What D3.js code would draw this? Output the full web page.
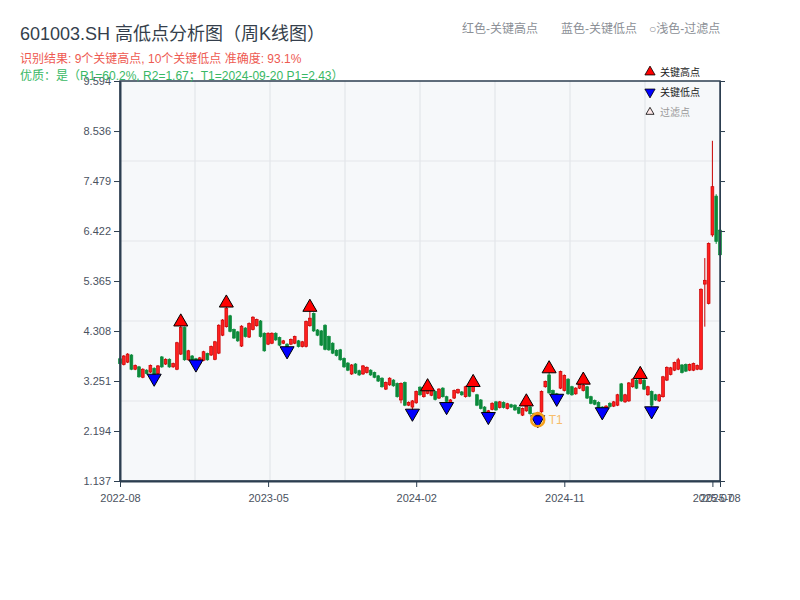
<!DOCTYPE html>
<html>
  <head>
    <meta charset="utf-8">
    <style>
      body {
        margin: 0;
        background: #fff;
      }
      svg text {
        font-family: "Liberation Sans", "Noto Sans CJK SC", sans-serif;
      }
      .axis path, .axis line {
        stroke: #2c3e50;
      }
      .axis text {
        fill: #4a5260;
        font-size: 11px;
      }
    </style>
  </head>
  <body>
    <script src="https://d3js.org/d3.v7.min.js"></script>
    <script>
      // weekly OHLC
      const opens = [3.72,3.60,3.65,3.80,3.50,3.55,3.33,3.48,3.44,3.52,3.41,3.76,3.61,3.71,3.55,3.50,3.82,4.38,3.70,3.78,
        3.72,3.63,3.69,3.83,3.80,3.71,3.84,4.22,4.40,4.63,4.34,4.29,3.99,4.37,4.18,4.34,4.42,4.52,4.26,4.03,
        4.05,4.26,4.17,4.05,4.03,4.03,4.05,4.10,3.98,3.98,4.42,4.68,4.33,4.31,4.43,4.19,4.05,3.90,3.91,3.73,
        3.63,3.40,3.61,3.47,3.40,3.43,3.48,3.43,3.36,3.31,3.08,3.17,3.27,3.20,2.85,3.22,2.74,2.70,2.79,3.12,
        2.92,2.99,2.95,3.03,2.89,3.10,2.92,2.74,2.89,3.00,3.02,2.92,3.18,3.03,2.96,2.85,2.70,2.58,2.65,2.81,
        2.69,2.80,2.67,2.75,2.74,2.69,2.53,2.62,2.70,2.56,2.50,2.60,3.13,3.38,3.05,2.98,3.10,3.05,3.29,3.13,
        2.98,3.10,3.05,3.13,2.92,2.84,2.80,2.70,2.66,2.78,2.72,2.74,3.19,2.81,2.83,3.13,3.27,3.20,3.27,2.96,
        3.03,2.96,2.83,2.92,3.27,3.39,3.48,3.50,3.59,3.60,3.48,3.48,3.50,3.50,5.30,4.89,6.34,7.16,6.44];
      const closes = [3.62,3.78,3.82,3.50,3.58,3.34,3.50,3.41,3.58,3.38,3.57,3.55,3.71,3.55,3.62,4.06,4.38,3.70,3.89,3.64,
        3.66,3.74,3.87,3.70,3.98,4.08,4.43,4.54,4.79,4.30,4.16,4.10,4.41,4.19,4.47,4.60,4.55,4.19,3.89,4.26,
        4.26,4.12,4.01,4.10,3.95,4.13,4.19,3.98,4.08,4.51,4.58,4.31,4.22,4.01,3.92,3.91,3.84,3.79,3.70,3.55,
        3.48,3.59,3.42,3.38,3.57,3.54,3.38,3.33,3.25,3.13,3.22,3.31,3.15,2.92,3.20,2.74,2.80,2.83,3.03,2.96,
        3.08,3.10,3.06,2.86,3.08,2.92,2.82,2.85,3.05,3.07,2.96,3.13,2.93,3.17,2.74,2.67,2.60,2.62,2.78,2.64,
        2.81,2.69,2.77,2.70,2.64,2.57,2.67,2.74,2.56,2.52,2.58,3.03,3.24,3.00,2.98,2.95,3.45,3.37,2.98,2.96,
        3.10,3.22,3.16,2.89,2.78,2.76,2.67,2.66,2.72,2.71,2.81,2.96,2.83,2.96,3.21,3.29,3.10,3.31,3.08,3.13,
        2.74,2.85,2.96,3.34,3.54,3.53,3.64,3.70,3.43,3.46,3.60,3.62,3.58,5.19,5.38,6.16,7.36,6.20,5.92];
      const highs = [3.75,3.80,3.84,3.82,3.60,3.57,3.52,3.50,3.60,3.54,3.59,3.78,3.73,3.73,3.64,4.08,4.50,4.40,3.91,3.80,
        3.74,3.76,3.89,3.85,4.00,4.10,4.45,4.56,4.90,4.65,4.36,4.31,4.43,4.39,4.49,4.62,4.57,4.54,4.28,4.28,
        4.28,4.28,4.19,4.12,4.05,4.15,4.21,4.12,4.10,4.53,4.81,4.70,4.35,4.33,4.45,4.21,4.07,3.92,3.93,3.75,
        3.65,3.61,3.63,3.49,3.59,3.56,3.50,3.45,3.38,3.33,3.24,3.33,3.29,3.22,3.22,3.24,2.82,2.85,3.05,3.14,
        3.10,3.13,3.08,3.05,3.10,3.12,2.94,2.87,3.07,3.09,3.04,3.15,3.20,3.22,2.98,2.87,2.72,2.64,2.80,2.83,
        2.83,2.82,2.79,2.77,2.76,2.71,2.69,2.81,2.72,2.58,2.60,3.05,3.26,3.51,3.07,3.00,3.47,3.39,3.31,3.15,
        3.12,3.24,3.27,3.15,2.94,2.86,2.82,2.72,2.74,2.80,2.83,2.98,3.21,2.98,3.23,3.31,3.29,3.39,3.29,3.15,
        3.05,2.98,2.98,3.36,3.56,3.55,3.66,3.74,3.61,3.62,3.62,3.64,3.60,5.21,5.85,6.18,8.33,7.20,6.46];
      const lows = [3.60,3.58,3.63,3.48,3.48,3.32,3.31,3.39,3.42,3.31,3.39,3.53,3.59,3.53,3.53,3.48,3.80,3.68,3.68,3.62,
        3.61,3.61,3.67,3.68,3.78,3.69,3.82,4.20,4.38,4.28,4.14,4.08,3.97,4.17,4.16,4.32,4.40,4.17,3.87,4.01,
        4.03,4.10,3.99,4.03,3.89,4.01,4.03,3.96,3.96,3.96,4.40,4.29,4.20,3.99,3.90,3.89,3.82,3.77,3.68,3.53,
        3.46,3.38,3.40,3.36,3.38,3.41,3.36,3.31,3.23,3.11,3.06,3.15,3.13,2.90,2.78,2.72,2.72,2.57,2.77,2.94,
        2.90,2.97,2.93,2.84,2.87,2.90,2.71,2.72,2.87,2.98,2.94,2.90,2.91,3.01,2.72,2.65,2.58,2.50,2.63,2.62,
        2.67,2.67,2.65,2.68,2.62,2.55,2.51,2.60,2.54,2.50,2.43,2.58,3.11,2.98,2.96,2.885,3.08,3.03,2.96,2.94,
        2.96,3.08,3.03,2.87,2.76,2.74,2.65,2.60,2.64,2.69,2.70,2.72,2.81,2.79,2.81,3.11,3.08,3.18,3.06,2.94,
        2.62,2.83,2.81,2.90,3.25,3.37,3.46,3.48,3.41,3.44,3.46,3.46,3.48,3.48,4.40,4.87,6.30,6.15,5.90];

      // key points (week index)
      const highIdx = [16, 28, 50, 81, 93, 107, 113, 122, 137];
      const lowIdx = [9, 20, 44, 77, 86, 97, 110, 115, 127, 140];
      const t1Idx = 110, t1Price = 2.43;

      const yTicks = [1.137, 2.194, 3.251, 4.308, 5.365, 6.422, 7.479, 8.536, 9.594];
      const xTickIdx = [0, 39, 78, 117, 156, 158];
      const xTickLabels = ["2022-08", "2023-05", "2024-02", "2024-11", "2025-07", "2025-08"];

      const width = 800, height = 600;
      const plot = {left: 120, right: 720, top: 81, bottom: 481};
      const red = "#ff1f1f", redDark = "#c80000", green = "#0b8a3b";

      const svg = d3.select("body").append("svg")
          .attr("width", width)
          .attr("height", height);

      const x = d3.scaleLinear()
          .domain([0, opens.length - 1])
          .range([plot.left, plot.right]);
      const y = d3.scaleLinear()
          .domain([yTicks[0], yTicks[yTicks.length - 1]])
          .range([plot.bottom, plot.top]);

      // plot background + grid (8 x 5 cells)
      svg.append("rect")
          .attr("x", plot.left).attr("y", plot.top)
          .attr("width", plot.right - plot.left).attr("height", plot.bottom - plot.top)
          .attr("fill", "#f6f8fa");

      const gx = d3.scaleLinear().domain([0, 8]).range([plot.left, plot.right]);
      const gy = d3.scaleLinear().domain([0, 5]).range([plot.top, plot.bottom]);
      svg.append("g").selectAll("line")
          .data(d3.range(1, 8))
          .join("line")
          .attr("x1", d => gx(d)).attr("x2", d => gx(d))
          .attr("y1", plot.top).attr("y2", plot.bottom)
          .attr("stroke", "#e3e6ea").attr("stroke-width", 1.2);
      svg.append("g").selectAll("line")
          .data(d3.range(1, 5))
          .join("line")
          .attr("y1", d => gy(d)).attr("y2", d => gy(d))
          .attr("x1", plot.left).attr("x2", plot.right)
          .attr("stroke", "#e3e6ea").attr("stroke-width", 1.2);

      // candles
      const candles = svg.append("g").selectAll("g")
          .data(opens.map((o, i) => ({i, o, c: closes[i], h: highs[i], l: lows[i]})))
          .join("g");

      candles.append("line")
          .attr("x1", d => x(d.i)).attr("x2", d => x(d.i))
          .attr("y1", d => y(d.h)).attr("y2", d => y(d.l))
          .attr("stroke", d => d.c >= d.o ? redDark : green)
          .attr("stroke-width", 1);

      candles.append("rect")
          .attr("x", d => x(d.i) - 1.4)
          .attr("width", 2.8)
          .attr("y", d => y(Math.max(d.o, d.c)))
          .attr("height", d => Math.max(1, Math.abs(y(d.o) - y(d.c))))
          .attr("fill", d => d.c >= d.o ? red : green)
          .attr("stroke", d => d.c >= d.o ? redDark : green)
          .attr("stroke-width", 0.7);

      // markers
      const tri = d3.symbol().type(d3.symbolTriangle).size(85);
      svg.append("g").selectAll("path")
          .data(highIdx)
          .join("path")
          .attr("d", tri)
          .attr("transform", i => `translate(${x(i)},${y(highs[i])})`)
          .attr("fill", "#ff0000")
          .attr("stroke", "#000").attr("stroke-width", 1);

      svg.append("g").selectAll("path")
          .data(lowIdx)
          .join("path")
          .attr("d", tri)
          .attr("transform", i => `translate(${x(i)},${y(lows[i])}) rotate(180)`)
          .attr("fill", "#0000ff")
          .attr("stroke", "#000").attr("stroke-width", 1);

      // T1 ring
      svg.append("circle")
          .attr("cx", x(t1Idx)).attr("cy", y(t1Price))
          .attr("r", 6.5)
          .attr("fill", "none")
          .attr("stroke", "#f5a01a").attr("stroke-width", 2.5);
      svg.append("text")
          .attr("x", x(t1Idx) + 11).attr("y", y(t1Price) + 4)
          .attr("fill", "#f7bd6a")
          .style("font-size", "12px")
          .text("T1");

      // frame + axes
      svg.append("rect")
          .attr("x", plot.left).attr("y", plot.top)
          .attr("width", plot.right - plot.left).attr("height", plot.bottom - plot.top)
          .attr("fill", "none").attr("stroke", "#2c3e50").attr("stroke-width", 1.5);

      svg.append("g")
          .attr("class", "axis")
          .attr("transform", `translate(${plot.left},0)`)
          .call(d3.axisLeft(y).tickValues(yTicks).tickFormat(d3.format(".3f")).tickSize(6).tickSizeOuter(0))
          .call(g => g.select(".domain").attr("stroke-width", 2));

      svg.append("g")
          .attr("class", "axis")
          .attr("transform", `translate(${plot.right},0)`)
          .call(d3.axisRight(y).tickValues(yTicks).tickFormat("").tickSize(5).tickSizeOuter(0));

      svg.append("g")
          .attr("class", "axis")
          .attr("transform", `translate(0,${plot.bottom})`)
          .call(d3.axisBottom(x).tickValues(xTickIdx)
            .tickFormat((d, k) => xTickLabels[k]).tickSize(6).tickSizeOuter(0))
          .call(g => g.select(".domain").attr("stroke-width", 2))
          .call(g => g.selectAll("text").attr("dy", "1.1em"));

      // titles
      svg.append("text")
          .attr("x", 20).attr("y", 40)
          .attr("fill", "#353f4c")
          .style("font-size", "18px")
          .text("601003.SH 高低点分析图（周K线图）");
      svg.append("text")
          .attr("x", 20).attr("y", 63)
          .attr("fill", "#ee5a52")
          .style("font-size", "12px")
          .text("识别结果: 9个关键高点, 10个关键低点  准确度: 93.1%");
      svg.append("text")
          .attr("x", 20).attr("y", 80)
          .attr("fill", "#39b865")
          .style("font-size", "12px")
          .text("优质：是（R1=60.2%, R2=1.67；T1=2024-09-20 P1=2.43）");

      const topNotes = [["红色-关键高点", 462], ["蓝色-关键低点", 561], ["○浅色-过滤点", 649]];
      svg.append("g").selectAll("text")
          .data(topNotes)
          .join("text")
          .attr("x", d => d[1]).attr("y", 33)
          .attr("fill", "#8b8f96")
          .style("font-size", "12px")
          .text(d => d[0]);

      // legend
      const legend = [
        {label: "关键高点", fill: "#ff0000", rot: 0, size: 45, color: "#222"},
        {label: "关键低点", fill: "#0000ff", rot: 180, size: 45, color: "#222"},
        {label: "过滤点", fill: "#fde8e8", rot: 0, size: 28, color: "#999"}
      ];
      const lg = svg.append("g").selectAll("g")
          .data(legend)
          .join("g")
          .attr("transform", (d, k) => `translate(650,${72 + k * 20})`);
      lg.append("path")
          .attr("d", d => d3.symbol().type(d3.symbolTriangle).size(d.size)())
          .attr("transform", d => `rotate(${d.rot})`)
          .attr("fill", d => d.fill)
          .attr("stroke", "#000").attr("stroke-width", 0.8);
      lg.append("text")
          .attr("x", 10).attr("y", 4)
          .attr("fill", d => d.color)
          .style("font-size", "10px")
          .text(d => d.label);
    </script>
  </body>
</html>
